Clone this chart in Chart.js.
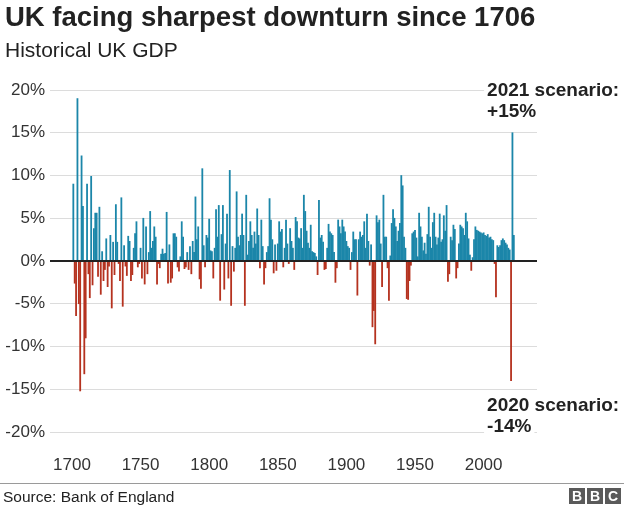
<!DOCTYPE html>
<html>
<head>
<meta charset="utf-8">
<script src="https://cdn.jsdelivr.net/npm/chart.js@4/dist/chart.umd.min.js"></script>
<style>
html,body{margin:0;padding:0;background:#fff;}
#wrap{position:relative;width:624px;height:506px;overflow:hidden;font-family:"Liberation Sans",Arial,Helvetica,sans-serif;color:#222;}
#title{position:absolute;left:5px;top:1px;font-size:27.5px;font-weight:bold;white-space:nowrap;}
#sub{position:absolute;left:5px;top:38px;font-size:21px;white-space:nowrap;}
#chartbox{position:absolute;left:0;top:0;width:624px;height:506px;}
#rule{position:absolute;left:0;top:483px;width:624px;height:1px;background:#9a9a9a;}
#source{position:absolute;left:3px;top:488px;font-size:15.5px;white-space:nowrap;}
#bbc{position:absolute;left:569px;top:488px;display:flex;gap:2px;}
#bbc span{display:block;width:16px;height:16px;background:#5a5a5a;color:#fff;font-weight:bold;font-size:14px;line-height:16px;text-align:center;}
</style>
</head>
<body>
<div id="wrap">
  <div id="chartbox"><canvas id="c" width="624" height="506"></canvas></div>
  <div id="title">UK facing sharpest downturn since 1706</div>
  <div id="sub">Historical UK GDP</div>
  <div id="rule"></div>
  <div id="source">Source: Bank of England</div>
  <div id="bbc"><span>B</span><span>B</span><span>C</span></div>
</div>
<script>
// ---- data (annual real GDP growth, %) ----
const startYear = 1701;
const growth1700s = [ // 1701-1799
  9.0, -2.6, -6.4, 19.0, -5.0, -15.2, 12.3, 6.4, -13.2, -9.0,
  9.0, -1.5, -4.3, 9.9, -2.8, 3.8, 5.6, 5.6, -1.8, 6.3,
  -3.9, 1.1, -2.3, -1.0, 2.6, -3.0, -0.6, 3.0, -5.5, 2.2,
  -1.6, 6.6, 2.2, -0.3, -2.3, 7.4, -5.3, 1.8, -0.6, -1.7,
  2.9, 2.3, -2.3, -1.6, 1.5, 3.2, 4.6, -0.7, -0.3, 1.5,
  -2.0, 5.0, -2.7, 4.0, -1.5, 1.0, 5.8, 1.5, 2.3, 4.0,
  2.8, -2.7, -0.3, -0.8, 0.8, 1.4, 0.8, 0.9, 5.7, -2.6,
  1.9, -2.5, -2.0, 3.2, 3.2, 2.8, -0.7, -1.2, 0.5, 4.6,
  2.8, -0.9, -0.7, 1.0, -1.0, 1.7, -1.5, 2.3, 1.0, 7.5,
  2.5, 4.0, -2.1, -3.2, 10.8, 1.8, -0.7, 3.0, 2.7
];
const growth1800s = [ // 1800-1899
  4.9, 1.2, 1.1, -2.0, 1.5, 6.0, 2.8, 6.5, -4.6, 3.1,
  6.5, -3.3, 2.0, 5.5, -2.0, 10.6, -5.2, 1.7, -1.2, 1.5,
  8.1, 2.8, 1.8, 3.0, 5.5, 3.0, -5.2, 7.7, 0.7, 2.3,
  4.6, 3.0, 1.5, 3.4, 2.0, 6.1, 3.0, -0.8, 4.8, 1.7,
  -2.7, -0.8, 1.0, 1.7, 7.3, 4.8, 2.5, -1.4, 1.9, -1.1,
  2.0, 4.6, 3.4, 3.7, -0.7, 1.5, 4.8, 2.0, -0.3, 3.8,
  2.3, 1.5, -1.0, 5.1, 4.6, 2.7, 2.6, 3.8, 1.5, 7.7,
  5.8, 3.5, 2.1, 1.5, 4.2, 1.1, 1.0, 0.9, 0.5, -1.6,
  7.1, 2.7, 3.0, 2.2, -1.0, -0.9, 1.5, 4.3, 3.4, 3.2,
  3.0, 1.0, -2.5, -0.8, 4.8, 4.0, 3.2, 4.8, 4.0, 3.4
];
const growth1900s = [ // 1900-1999
  2.3, 1.7, 1.5, -1.0, 1.0, 3.4, 2.5, 2.5, -4.0, 2.5,
  3.4, 2.8, 3.0, 4.6, 1.5, 5.5, 2.3, -0.5, 1.9, -7.7,
  -5.8, -9.7, 5.3, 4.5, 4.8, 2.0, -3.0, 7.7, 2.8, 2.8,
  -0.8, -4.6, 0.6, 4.4, 6.0, 5.0, 4.0, 2.3, 3.5, 4.4,
  10.0, 8.8, 2.8, 1.5, -4.4, -4.5, -2.3, -0.5, 3.2, 3.4,
  3.6, 2.7, 0.5, 5.6, 4.0, 2.8, 1.2, 2.1, 0.8, 3.1,
  6.3, 2.8, 1.5, 4.5, 5.6, 2.8, 1.9, 2.7, 5.5, 2.2,
  2.5, 5.3, 3.5, 6.5, -2.4, -1.5, 2.8, 2.4, 4.2, 3.7,
  -2.0, -0.8, 2.0, 4.2, 4.0, 3.8, 3.0, 5.6, 4.6, 2.6,
  0.7, -1.1, 0.4, 2.5, 4.0, 3.6, 3.5, 3.4, 3.3, 3.2
];
const growth2000s = [ // 2000-2022 (2020-2022: BoE scenario)
  3.3, 3.0, 2.9, 3.1, 2.7, 2.8, 2.5, 2.4, -0.3, -4.2,
  1.8, 1.6, 1.8, 2.4, 2.6, 2.4, 2.1, 1.9, 1.5, 1.3,
  -14.0, 15.0, 3.0
];
const xTickYears = [1700, 1750, 1800, 1850, 1900, 1950, 2000];
const yTickValues = [-20, -15, -10, -5, 0, 5, 10, 15, 20];
const scenarioTop = ['2021 scenario:', '+15%'];
const scenarioBottom = ['2020 scenario:', '-14%'];

// ---- build ----
const growth = [...growth1700s, ...growth1800s, ...growth1900s, ...growth2000s];
const years = growth.map((_, i) => startYear + i);
const BLUE = '#1b86a9';
const RED = '#b5321f';
const FONT = '"Liberation Sans", Arial, Helvetica, sans-serif';
Chart.defaults.font.family = FONT;

const zeroLine = {
  id: 'zeroLine',
  afterDatasetsDraw(chart) {
    const {ctx, chartArea, scales} = chart;
    const y = Math.round(scales.y.getPixelForValue(0));
    ctx.save();
    ctx.strokeStyle = '#222';
    ctx.lineWidth = 2;
    ctx.beginPath();
    ctx.moveTo(chartArea.left, y);
    ctx.lineTo(chartArea.right, y);
    ctx.stroke();
    ctx.restore();
  }
};

const scenarioLabels = {
  id: 'scenarioLabels',
  afterDraw(chart) {
    const {ctx, chartArea, scales} = chart;
    const x = scales.x.getPixelForValue(2020) - 24;
    ctx.save();
    ctx.font = 'bold 19px ' + FONT;
    ctx.textBaseline = 'middle';
    ctx.textAlign = 'left';
    const draw = (lines, y0) => {
      lines.forEach((t, i) => {
        const y = y0 + i * 21;
        const w = ctx.measureText(t).width;
        ctx.fillStyle = '#fff';
        ctx.fillRect(x - 3, y - 10, w + 6, 21);
        ctx.fillStyle = '#222';
        ctx.fillText(t, x, y);
      });
    };
    draw(scenarioTop, chartArea.top + 1);
    draw(scenarioBottom, chartArea.bottom - 26);
    ctx.restore();
  }
};

new Chart(document.getElementById('c'), {
  type: 'bar',
  data: {
    datasets: [{
      data: growth.map((v, i) => ({x: years[i], y: v})),
      backgroundColor: growth.map(v => v >= 0 ? BLUE : RED),
      borderWidth: 0,
      barThickness: 1.15,
      grouped: false
    }]
  },
  options: {
    responsive: false,
    animation: false,
    layout: {padding: {left: 0, right: 87, top: 90, bottom: 26}},
    plugins: {legend: {display: false}, tooltip: {enabled: false}, title: {display: false}},
    scales: {
      x: {
        type: 'linear',
        min: 1684,
        max: 2038.9,
        offset: false,
        afterBuildTicks: s => { s.ticks = xTickYears.map(v => ({value: v})); },
        afterFit: s => { s.height = 48; },
        ticks: {
          callback: v => String(v),
          autoSkip: false,
          maxRotation: 0,
          padding: 23,
          color: '#333',
          font: {size: 17, family: FONT}
        },
        grid: {display: false, drawTicks: false},
        border: {display: false}
      },
      y: {
        min: -20,
        max: 20,
        afterBuildTicks: s => { s.ticks = yTickValues.map(v => ({value: v})); },
        afterFit: s => { s.width = 50; },
        ticks: {
          callback: v => v + '%',
          padding: 5,
          color: '#333',
          font: {size: 17, family: FONT}
        },
        grid: {color: '#dcdcdc', lineWidth: 1, drawTicks: false},
        border: {display: false}
      }
    }
  },
  plugins: [zeroLine, scenarioLabels]
});
</script>
</body>
</html>
